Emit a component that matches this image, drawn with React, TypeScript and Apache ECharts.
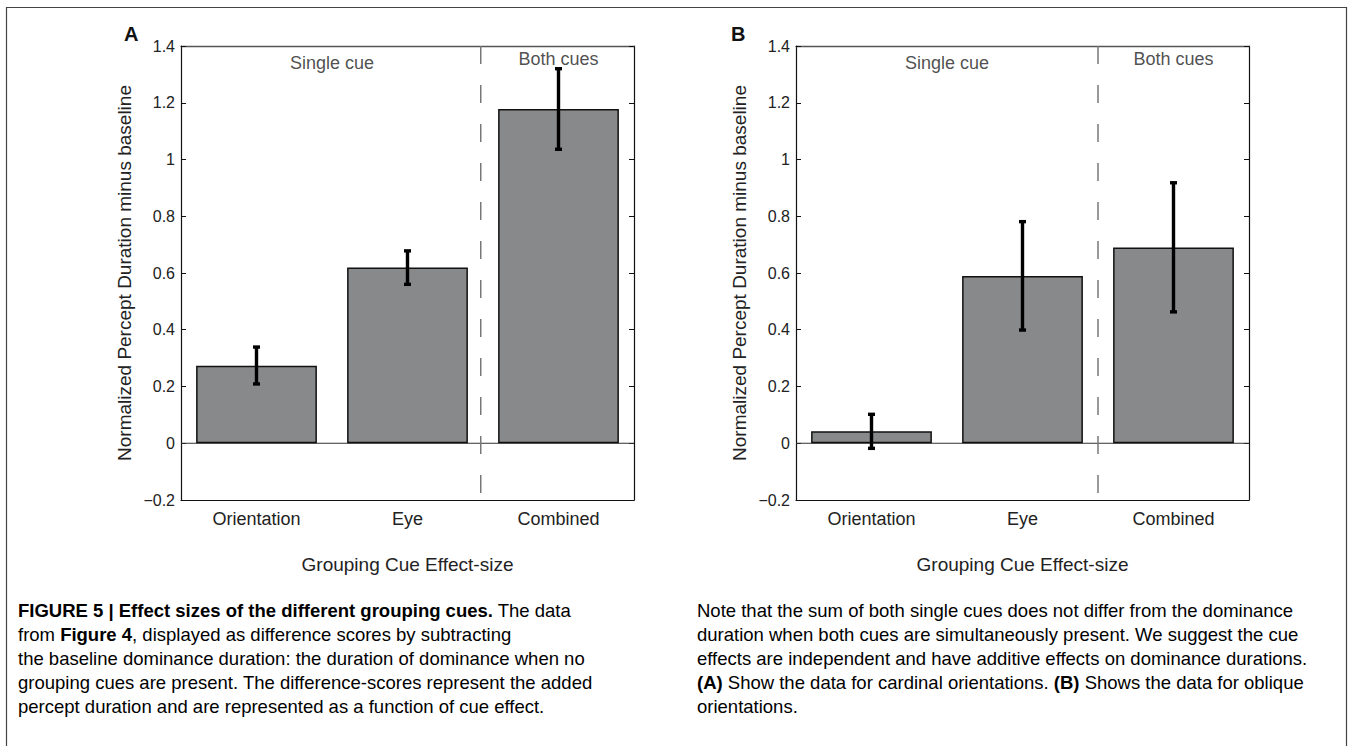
import React, { useEffect, useRef } from "react";
import * as echarts from "echarts";

const categories = ["Orientation", "Eye", "Combined"];
const meansA = [0.273, 0.619, 1.178];
const errLowA = [0.209, 0.56, 1.036];
const errHighA = [0.339, 0.678, 1.32];
const meansB = [0.042, 0.589, 0.69];
const errLowB = [-0.018, 0.399, 0.463];
const errHighB = [0.102, 0.781, 0.918];
const yMin = -0.2;
const yMax = 1.4;
const yStep = 0.2;
const groupLabels = ["Single cue", "Both cues"];
const xAxisTitle = "Grouping Cue Effect-size";
const yAxisTitle = "Normalized Percept Duration minus baseline";
const panelLetters = ["A", "B"];

const captionLeft = [
  "{b|FIGURE 5 | Effect sizes of the different grouping cues.}{n| The data}",
  "{n|from }{b|Figure 4}{n|, displayed as difference scores by subtracting}",
  "{n|the baseline dominance duration: the duration of dominance when no}",
  "{n|grouping cues are present. The difference-scores represent the added}",
  "{n|percept duration and are represented as a function of cue effect.}",
];
const captionRight = [
  "{n|Note that the sum of both single cues does not differ from the dominance}",
  "{n|duration when both cues are simultaneously present. We suggest the cue}",
  "{n|effects are independent and have additive effects on dominance durations.}",
  "{b|(A)}{n| Show the data for cardinal orientations. }{b|(B)}{n| Shows the data for oblique}",
  "{n|orientations.}",
];

const FONT = "'Liberation Sans', Arial, Helvetica, sans-serif";
const CAP_FONT = "'Liberation Sans', Arial, sans-serif";
const TXT = "#222";

const fmtY = (v: number) => {
  if (Math.abs(v) < 1e-9) return "0";
  const s = parseFloat(v.toFixed(2)).toString();
  return s.replace("-", "\u2212");
};

function buildPanel(g: number, means: number[], lo: number[], hi: number[], divider: number, labelPos: number[][]) {
  const xBase = g * 3;
  const yBase = g * 2;
  const xAxes = [
    {
      type: "category", gridIndex: g, position: "bottom", data: categories,
      axisLine: { onZero: false, lineStyle: { color: "#111", width: 1.2 } },
      axisTick: { inside: true, alignWithLabel: true, length: 5, lineStyle: { color: "#111" } },
      axisLabel: { color: TXT, fontSize: 18, fontFamily: FONT, margin: 10 },
      name: xAxisTitle, nameLocation: "middle", nameGap: 55,
      nameTextStyle: { color: TXT, fontSize: 19, fontFamily: FONT },
      splitLine: { show: false },
    },
    {
      type: "category", gridIndex: g, position: "top", data: categories,
      axisLine: { onZero: false, lineStyle: { color: "#555", width: 1.4 } },
      axisTick: { inside: true, alignWithLabel: true, length: 5, lineStyle: { color: "#555" } },
      axisLabel: { show: false },
      splitLine: { show: false },
    },
    { type: "value", gridIndex: g, min: 0.5, max: 3.5, show: false, splitLine: { show: false } },
  ];
  const yAxes = [
    {
      type: "value", gridIndex: g, position: "left", min: yMin, max: yMax, interval: yStep,
      axisLine: { show: true, onZero: false, lineStyle: { color: "#111", width: 1.2 } },
      axisTick: { show: true, inside: true, length: 5, lineStyle: { color: "#111" } },
      axisLabel: { color: TXT, fontSize: 16, fontFamily: FONT, margin: 6, formatter: fmtY },
      splitLine: { show: false },
      name: yAxisTitle, nameLocation: "middle", nameGap: 47,
      nameTextStyle: { color: TXT, fontSize: 19, fontFamily: FONT },
    },
    {
      type: "value", gridIndex: g, position: "right", min: yMin, max: yMax, interval: yStep,
      axisLine: { show: true, onZero: false, lineStyle: { color: "#111", width: 1.2 } },
      axisTick: { show: true, inside: true, length: 5, lineStyle: { color: "#111" } },
      axisLabel: { show: false },
      splitLine: { show: false },
    },
  ];
  const series: any[] = [
    {
      type: "line", xAxisIndex: xBase + 2, yAxisIndex: yBase, data: [[0.5, 0], [3.5, 0]],
      symbol: "none", lineStyle: { color: "#333", width: 1 }, z: 1, silent: true,
    },
    {
      type: "bar", xAxisIndex: xBase, yAxisIndex: yBase, data: means, barWidth: "80%",
      itemStyle: { color: "#88898b", borderColor: "#111", borderWidth: 1.5 }, z: 2,
    },
    {
      type: "line", xAxisIndex: xBase + 2, yAxisIndex: yBase, data: [[divider, yMax], [divider, yMin]],
      symbol: "none", lineStyle: { color: "#777", width: 1.5, type: [18, 21] }, z: 3, silent: true,
    },
    {
      type: "custom", xAxisIndex: xBase + 2, yAxisIndex: yBase,
      data: means.map((_, i) => [i + 1, lo[i], hi[i]]),
      encode: { x: 0, y: [1, 2] }, z: 5,
      renderItem: (params: any, api: any) => {
        const x = api.value(0);
        const pLo = api.coord([x, api.value(1)]);
        const pHi = api.coord([x, api.value(2)]);
        const cw = 3.5;
        const st = { stroke: "#000", lineWidth: 3.4 };
        return {
          type: "group",
          children: [
            { type: "line", shape: { x1: pLo[0], y1: pLo[1], x2: pHi[0], y2: pHi[1] }, style: st },
            { type: "line", shape: { x1: pLo[0] - cw, y1: pLo[1], x2: pLo[0] + cw, y2: pLo[1] }, style: st },
            { type: "line", shape: { x1: pHi[0] - cw, y1: pHi[1], x2: pHi[0] + cw, y2: pHi[1] }, style: st },
          ],
        };
      },
    },
    {
      type: "scatter", xAxisIndex: xBase + 2, yAxisIndex: yBase, symbolSize: 0, z: 6,
      data: groupLabels.map((n, i) => ({ name: n, value: labelPos[i] })),
      label: {
        show: true, position: "inside", formatter: (p: any) => p.name,
        color: TXT, fontSize: 18, fontFamily: FONT,
      },
      silent: true,
    },
  ];
  return { xAxes, yAxes, series };
}

export default function App() {
  const ref = useRef<HTMLDivElement>(null);
  useEffect(() => {
    document.body.style.margin = "0";
    const chart = echarts.init(ref.current!, undefined, { renderer: "svg" });
    const pA = buildPanel(0, meansA, errLowA, errHighA, 2.485, [[1.5, 1.34], [3, 1.354]]);
    const pB = buildPanel(1, meansB, errLowB, errHighB, 2.5, [[1.5, 1.34], [3, 1.354]]);
    const captionEls: any[] = [];
    const rich = {
      n: { fontFamily: CAP_FONT, fontSize: 18.5, color: "#222" },
      b: { fontFamily: CAP_FONT, fontSize: 18.5, color: "#111", fontWeight: "bold" },
    };
    captionLeft.forEach((t, i) => {
      captionEls.push({
        type: "text", x: 18, y: 610 + i * 24,
        style: { text: t, rich, verticalAlign: "middle", align: "left" },
      });
    });
    captionRight.forEach((t, i) => {
      captionEls.push({
        type: "text", x: 697, y: 610 + i * 24,
        style: { text: t, rich, verticalAlign: "middle", align: "left" },
      });
    });
    chart.setOption({
      animation: false,
      backgroundColor: "#fff",
      grid: [
        { left: 181, top: 46, width: 453, height: 454 },
        { left: 796, top: 46, width: 453, height: 454 },
      ],
      xAxis: [...pA.xAxes, ...pB.xAxes],
      yAxis: [...pA.yAxes, ...pB.yAxes],
      series: [...pA.series, ...pB.series],
      graphic: [
        {
          type: "rect", shape: { x: 6.5, y: 7.5, width: 1340, height: 800 },
          style: { fill: "none", stroke: "#444", lineWidth: 1.2 }, silent: true,
        },
        {
          type: "text", x: 124, y: 34,
          style: { text: panelLetters[0], fontFamily: FONT, fontSize: 20, fontWeight: "bold", fill: "#111", verticalAlign: "middle" },
        },
        {
          type: "text", x: 731, y: 34,
          style: { text: panelLetters[1], fontFamily: FONT, fontSize: 20, fontWeight: "bold", fill: "#111", verticalAlign: "middle" },
        },
        ...captionEls,
      ],
    });
    return () => chart.dispose();
  }, []);
  return <div ref={ref} style={{ position: "fixed", left: 0, top: 0, width: 1354, height: 746 }} />;
}
